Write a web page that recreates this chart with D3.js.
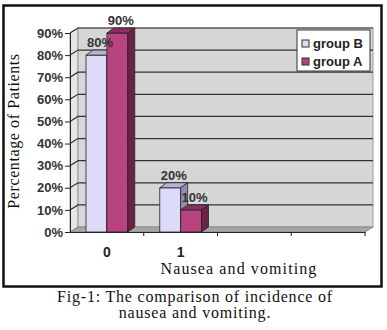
<!DOCTYPE html>
<html>
<head>
<meta charset="utf-8">
<script src="https://cdn.jsdelivr.net/npm/d3@7"></script>
<style>
  body { margin: 0; background: #fff; }
  svg text { font-family: "Liberation Sans", Arial, sans-serif; }
  .serif { font-family: "Liberation Serif", "Times New Roman", serif !important; }
</style>
</head>
<body>
<div id="chart"></div>
<script>
// Chart data
const categories = ["0", "1", "", ""];
const groups = ["group B", "group A"];
const groupB = [0.8, 0.2, null, null];
const groupA = [0.9, 0.1, null, null];
const yTicks = [0, 0.1, 0.2, 0.3, 0.4, 0.5, 0.6, 0.7, 0.8, 0.9];

const width = 387, height = 330;
const depthX = 8, depthY = -5;     // 3D offset of the back wall
const barDX = 7, barDY = -5;       // 3D offset of the bars

const colors = {
    "group B": { front: "#dcdcf8", top: "#b4b4d6", side: "#8e8eb4" },
    "group A": { front: "#b8437f", top: "#8c2f5e", side: "#6a2346" }
};

const svg = d3.select("#chart").append("svg")
    .attr("width", width)
    .attr("height", height);

svg.append("rect").attr("width", width).attr("height", height).attr("fill", "#fff");

// outer frame
svg.append("rect")
    .attr("x", 3.5).attr("y", 5.5)
    .attr("width", 378).attr("height", 281)
    .attr("fill", "#fff")
    .attr("stroke", "#111")
    .attr("stroke-width", 2.5);

// Scales
const x0 = d3.scaleBand()
    .domain(d3.range(categories.length))
    .range([70, 365]);

const x1 = d3.scaleBand()
    .domain(groups)
    .range([16, x0.bandwidth() - 16]);

const y = d3.scaleLinear()
    .domain([0, 0.9])
    .range([232, 33]);

const left = x0.range()[0], right = x0.range()[1];
const y0 = y(0), yTop = y(0.9);

// side wall
svg.append("polygon")
    .attr("points", [[left, yTop], [left + depthX, yTop + depthY], [left + depthX, y0 + depthY], [left, y0]].join(" "))
    .attr("fill", "#e6e6e6")
    .attr("stroke", "#9a9a9a");

// back wall
svg.append("rect")
    .attr("x", left + depthX).attr("y", yTop + depthY)
    .attr("width", right - left).attr("height", y0 - yTop)
    .attr("fill", "#d6d6d6")
    .attr("stroke", "#9a9a9a");

// floor
svg.append("polygon")
    .attr("points", [[left, y0], [left + depthX, y0 + depthY], [right + depthX, y0 + depthY], [right, y0]].join(" "))
    .attr("fill", "#a6a6a6")
    .attr("stroke", "#8a8a8a");

// gridlines
const grid = svg.append("g").attr("class", "grid");
grid.selectAll("path")
    .data(yTicks.filter(d => d > 0))
    .enter().append("path")
    .attr("d", d => `M${left},${y(d)}L${left + depthX},${y(d) + depthY}H${right + depthX}`)
    .attr("fill", "none")
    .attr("stroke", "#333")
    .attr("stroke-width", 1.2);

// Bars
const bars = [];
categories.forEach((c, i) => {
    [groupB, groupA].forEach((vals, g) => {
        if (vals[i] != null) bars.push({ cat: i, group: groups[g], value: vals[i] });
    });
});

const barG = svg.append("g").attr("class", "bars");
bars.forEach(b => {
    const bx = x0(b.cat) + x1(b.group);
    const bw = x1.bandwidth();
    const by = y(b.value);
    const col = colors[b.group];
    const g = barG.append("g").attr("stroke", "#222").attr("stroke-width", 0.8).attr("stroke-linejoin", "round");
    g.append("rect")
        .attr("x", bx).attr("y", by)
        .attr("width", bw).attr("height", y0 - by)
        .attr("fill", col.front);
    g.append("polygon")
        .attr("points", [[bx, by], [bx + barDX, by + barDY], [bx + bw + barDX, by + barDY], [bx + bw, by]].join(" "))
        .attr("fill", col.top);
    g.append("polygon")
        .attr("points", [[bx + bw, by], [bx + bw + barDX, by + barDY], [bx + bw + barDX, y0 + barDY], [bx + bw, y0]].join(" "))
        .attr("fill", col.side);
});

// value labels
svg.append("g").selectAll("text")
    .data(bars)
    .enter().append("text")
    .attr("x", d => x0(d.cat) + x1(d.group) + x1.bandwidth() / 2 + barDX / 2)
    .attr("y", d => y(d.value) + barDY - 3)
    .attr("text-anchor", "middle")
    .attr("font-size", 13)
    .attr("font-weight", "bold")
    .attr("fill", "#333")
    .text(d => d3.format(".0%")(d.value));

// Y axis
const yAxis = d3.axisLeft(y)
    .tickValues(yTicks)
    .tickFormat(d3.format(".0%"))
    .tickSize(5)
    .tickPadding(2);

svg.append("g")
    .attr("transform", `translate(${left},0)`)
    .call(yAxis)
    .call(g => g.select(".domain").attr("stroke", "#222"))
    .call(g => g.selectAll(".tick line").attr("stroke", "#222"))
    .call(g => g.selectAll("text")
        .attr("font-size", 13)
        .attr("font-weight", "bold")
        .attr("fill", "#333")
        .style("font-family", "'Liberation Sans', Arial, sans-serif"));

// X axis
const xAxis = d3.axisBottom(x0)
    .tickFormat(i => categories[i])
    .tickSize(0)
    .tickPadding(15);

const xg = svg.append("g")
    .attr("transform", `translate(0,${y0})`)
    .call(xAxis);
xg.select(".domain").attr("stroke", "#222");
xg.selectAll("text")
    .attr("font-size", 14)
    .attr("font-weight", "bold")
    .attr("fill", "#222")
    .style("font-family", "'Liberation Sans', Arial, sans-serif");

// category separator ticks
xg.selectAll(".sep")
    .data(d3.range(1, categories.length + 1))
    .enter().append("line")
    .attr("x1", i => left + i * x0.step())
    .attr("x2", i => left + i * x0.step())
    .attr("y1", 0).attr("y2", 4)
    .attr("stroke", "#222");

// Axis titles
svg.append("text")
    .attr("class", "serif")
    .attr("transform", "translate(19,131) rotate(-90)")
    .attr("text-anchor", "middle")
    .attr("font-size", 16)
    .attr("letter-spacing", 0.6)
    .attr("fill", "#111")
    .text("Percentage of Patients");

svg.append("text")
    .attr("class", "serif")
    .attr("x", 239).attr("y", 274)
    .attr("text-anchor", "middle")
    .attr("font-size", 16)
    .attr("letter-spacing", 1.1)
    .attr("fill", "#111")
    .text("Nausea and vomiting");

// Legend
const legend = svg.append("g").attr("transform", "translate(297,30)");
legend.append("rect")
    .attr("width", 73).attr("height", 41)
    .attr("fill", "#fff")
    .attr("stroke", "#333");
legend.selectAll(".item")
    .data(groups)
    .enter().append("g")
    .attr("class", "item")
    .attr("transform", (d, i) => `translate(5,${13 + i * 18})`)
    .each(function(d) {
        const g = d3.select(this);
        g.append("rect")
            .attr("x", 0).attr("y", -3)
            .attr("width", 7).attr("height", 7)
            .attr("fill", colors[d].front)
            .attr("stroke", "#333");
        g.append("text")
            .attr("x", 11).attr("y", 4.5)
            .attr("font-size", 13)
            .attr("font-weight", "bold")
            .attr("fill", "#222")
            .text(d);
    });

// Caption
const caption = ["Fig-1: The comparison of incidence of", "nausea and vomiting."];
svg.append("g").selectAll("text")
    .data(caption)
    .enter().append("text")
    .attr("class", "serif")
    .attr("x", 195)
    .attr("y", (d, i) => 302 + i * 16)
    .attr("text-anchor", "middle")
    .attr("font-size", 16)
    .attr("letter-spacing", 0.8)
    .attr("fill", "#111")
    .text(d => d);
</script>
</body>
</html>
